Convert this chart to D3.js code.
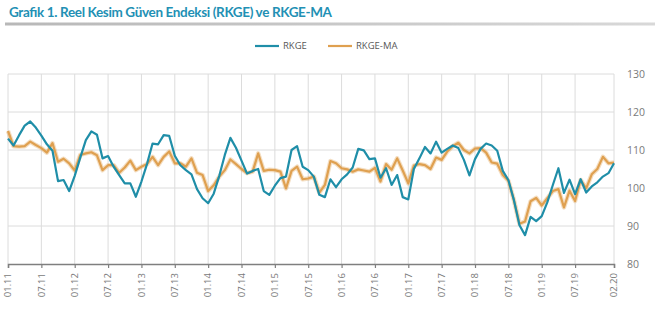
<!DOCTYPE html>
<html><head><meta charset="utf-8">
<script src="https://cdn.jsdelivr.net/npm/d3@7"></script>
<style>
html,body{margin:0;padding:0;background:#fff;}
svg{display:block;}
</style></head>
<body>
<svg id="chart" width="655" height="321"></svg>
<script>
const titleText = "Grafik 1. Reel Kesim Güven Endeksi (RKGE) ve RKGE-MA";
const seriesNames = ["RKGE", "RKGE-MA"];
const seriesColors = ["#1f8ea8", "#dfa050"];
// monthly categories 01.11 ... 02.20
const fmt = d3.timeFormat("%m.%y");
const categories = d3.timeMonths(new Date(2011,0,1), new Date(2020,2,1)).map(fmt);
const tickLabels = ["01.11","07.11","01.12","07.12","01.13","07.13","01.14","07.14","01.15","07.15",
  "01.16","07.16","01.17","07.17","01.18","07.18","01.19","07.19","02.20"];
const yTicks = [80,90,100,110,120,130];

const rkge = [
 113.0,111.2,113.9,116.4,117.5,115.9,113.8,111.5,109.8,101.8,
 102.1,99.2,103.2,108.0,112.6,114.9,114.0,107.8,108.4,105.6,
 103.4,101.2,101.2,97.7,101.7,106.3,111.7,111.5,113.9,113.7,
 108.5,106.0,104.7,103.6,99.7,97.3,96.0,98.5,103.2,108.7,
 113.2,110.6,107.2,103.8,104.5,105.0,99.2,98.2,100.6,102.6,
 103.0,110.0,111.0,105.6,104.7,103.0,98.2,97.6,102.3,100.2,
 102.3,103.6,105.4,110.3,109.9,107.6,107.8,102.7,105.2,100.8,
 103.4,97.6,97.0,105.0,107.8,110.8,109.1,112.2,109.3,110.3,
 111.2,110.5,107.4,103.3,107.6,110.3,111.7,111.2,109.8,104.5,
 102.1,96.8,90.2,87.6,92.4,91.3,92.6,96.2,100.8,105.2,
 98.7,102.2,98.4,102.3,98.8,100.4,101.5,103.0,103.9,106.5];
const rkgeMA = [
 115.0,111.0,110.9,111.0,112.2,111.3,110.5,109.3,111.8,106.9,
 107.7,106.5,104.6,108.7,109.1,109.4,108.6,104.7,106.0,106.0,
 104.0,105.4,107.2,104.7,105.6,106.3,108.2,106.0,108.2,109.6,
 106.5,106.5,105.6,107.8,104.0,103.4,99.2,100.7,103.0,104.7,
 107.5,106.3,105.0,103.9,104.3,109.1,104.5,104.8,104.7,104.3,
 99.9,104.5,105.6,102.3,102.5,103.0,98.8,100.8,107.1,106.5,
 105.2,104.9,104.3,104.9,104.6,104.3,105.3,101.7,106.3,104.8,
 107.8,104.6,101.2,105.9,106.3,106.0,105.0,108.0,107.4,109.6,
 111.0,111.9,110.0,109.1,110.4,110.5,109.3,106.7,106.4,103.4,
 101.9,96.8,90.6,91.2,96.5,97.4,95.4,97.3,99.2,99.7,
 94.9,99.3,96.6,102.1,99.9,103.6,105.0,108.2,106.5,106.7];

const svg = d3.select("#chart");
const W = 655, H = 321;
const plot = {left: 8, right: 614, top: 74, bottom: 264};

// Title
svg.append("text").attr("x", 9).attr("y", 17)
  .attr("font-family", "Lato, 'Open Sans', sans-serif").attr("font-weight", "bold")
  .attr("font-size", 13.5).attr("fill", "#2290b4")
  .attr("textLength", 323).attr("lengthAdjust", "spacing").text(titleText);
// gray rule under title
const grad = svg.append("defs").append("linearGradient").attr("id","rule");
grad.append("stop").attr("offset","0%").attr("stop-color","#b8b8b8");
grad.append("stop").attr("offset","100%").attr("stop-color","#d8d8d8");
svg.append("rect").attr("x", 5).attr("y", 22.5).attr("width", W-5).attr("height", 3).attr("fill", "url(#rule)");

const x = d3.scaleLinear().domain([0, categories.length-1]).range([plot.left, plot.right]);
const y = d3.scaleLinear().domain([80,130]).range([plot.bottom, plot.top]);
const tickIdx = tickLabels.map(l => categories.indexOf(l));

// gridlines
const g = svg.append("g");
g.selectAll(".hg").data(yTicks.filter(v => v > 80)).join("line")
  .attr("x1", plot.left).attr("x2", plot.right)
  .attr("y1", d => y(d)).attr("y2", d => y(d))
  .attr("stroke", "#dcdcdc").attr("stroke-width", 1);
g.selectAll(".vg").data(tickIdx).join("line")
  .attr("x1", d => x(d)).attr("x2", d => x(d))
  .attr("y1", plot.top).attr("y2", plot.bottom)
  .attr("stroke", "#dcdcdc").attr("stroke-width", 1);

// y labels (right)
svg.append("g").selectAll("text").data(yTicks).join("text")
  .attr("x", 627).attr("y", d => y(d)).attr("dy", "0.35em")
  .attr("font-family", "'Open Sans', sans-serif").attr("font-size", 10.5)
  .attr("fill", "#7a7a7a").text(d => d);

// x axis
const xAxis = d3.axisBottom(x).tickValues(tickIdx).tickSize(4).tickFormat(() => "");
const ax = svg.append("g").attr("transform", `translate(0,${plot.bottom})`).call(xAxis);
ax.select(".domain").attr("stroke", "#7f7f7f").attr("stroke-width", 1.5);
ax.selectAll(".tick line").attr("stroke", "#7f7f7f").attr("stroke-width", 1.2);
svg.append("g").selectAll("text").data(tickIdx).join("text")
  .attr("transform", (d) => `translate(${x(d)},273) rotate(-90)`)
  .attr("text-anchor", "end").attr("dy", "0.35em")
  .attr("font-family", "'Open Sans', sans-serif").attr("font-size", 9.5)
  .attr("fill", "#7a7a7a").text((d, i) => tickLabels[i]);

// lines
const line = d3.line().x((d, i) => x(i)).y(d => y(d));
svg.append("path").datum(rkgeMA).attr("d", line).attr("fill", "none")
  .attr("stroke", seriesColors[1]).attr("stroke-opacity", 0.35).attr("stroke-width", 4.5).attr("stroke-linejoin", "round");
svg.append("path").datum(rkgeMA).attr("d", line).attr("fill", "none")
  .attr("stroke", seriesColors[1]).attr("stroke-width", 2.2).attr("stroke-linejoin", "round");
svg.append("path").datum(rkge).attr("d", line).attr("fill", "none")
  .attr("stroke", seriesColors[0]).attr("stroke-width", 2.2).attr("stroke-linejoin", "round");

// legend
const legendX = [255, 328];
const lg = svg.append("g");
seriesNames.forEach((n, i) => {
  lg.append("line").attr("x1", legendX[i]).attr("x2", legendX[i] + 24)
    .attr("y1", 46).attr("y2", 46).attr("stroke", seriesColors[i]).attr("stroke-width", 2.2);
  lg.append("text").attr("x", legendX[i] + 28).attr("y", 46).attr("dy", "0.35em")
    .attr("font-family", "'Open Sans', sans-serif").attr("font-size", 9.5)
    .attr("fill", "#595959").text(n);
});
</script>
</body></html>
